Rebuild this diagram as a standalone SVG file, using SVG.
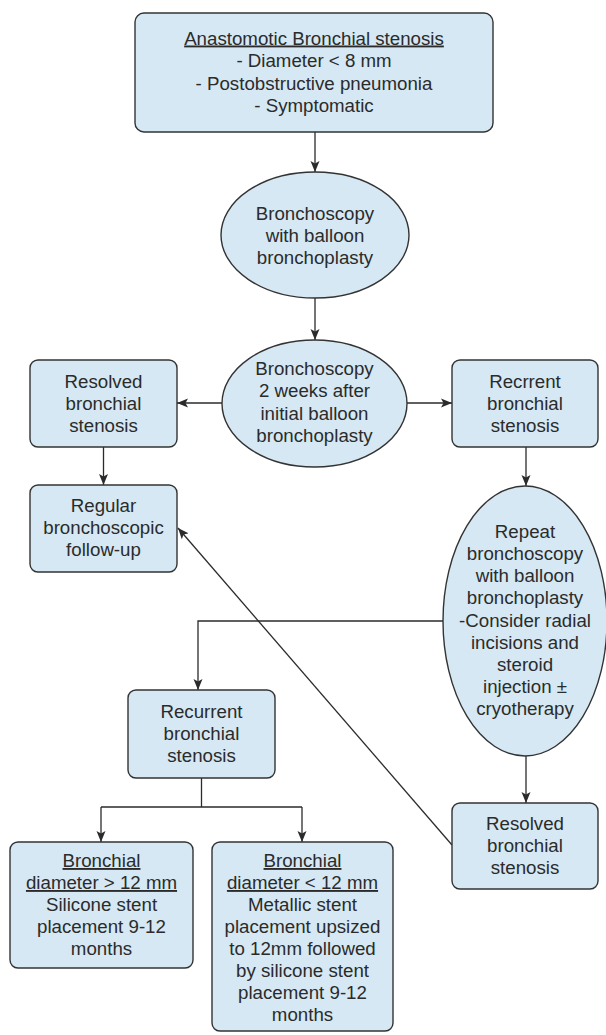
<svg xmlns="http://www.w3.org/2000/svg" width="606" height="1035" viewBox="0 0 606 1035">
<style>
.n{fill:#d5e8f3;stroke:#333;stroke-width:1.4}
.t{font-family:"Liberation Sans",Arial,Helvetica,sans-serif;font-size:18.7px;fill:#2b2b2b;text-anchor:middle}
.u{text-decoration:underline}
.c{fill:none;stroke:#2b2b2b;stroke-width:1.3}
</style>
<defs>
<marker id="ah" markerUnits="userSpaceOnUse" markerWidth="12" markerHeight="10" refX="11" refY="5" orient="auto">
<path d="M0,0.5 L11,5 L0,9.5 L2.5,5 Z" fill="#2b2b2b"/>
</marker>
</defs>
<rect width="606" height="1035" fill="#fff"/>
<g id="connectors">
<path class="c" d="M315,132 V172" marker-end="url(#ah)"/>
<path class="c" d="M315,298 V340" marker-end="url(#ah)"/>
<path class="c" d="M222,403 H177" marker-end="url(#ah)"/>
<path class="c" d="M407,403 H452" marker-end="url(#ah)"/>
<path class="c" d="M103.5,447 V485" marker-end="url(#ah)"/>
<path class="c" d="M526,447 V486" marker-end="url(#ah)"/>
<path class="c" d="M443,621 H198 V690" marker-end="url(#ah)"/>
<path class="c" d="M201.5,778 V807 M101,807 H302"/>
<path class="c" d="M101,807 V842" marker-end="url(#ah)"/>
<path class="c" d="M302,807 V842" marker-end="url(#ah)"/>
<path class="c" d="M526,756 V803" marker-end="url(#ah)"/>
<path class="c" d="M452,845 L178,528" marker-end="url(#ah)"/>
</g>
<g id="n1">
<rect class="n" x="135" y="13" width="358" height="119" rx="9"/>
<text class="t"><tspan class="u" x="314" y="44.5">Anastomotic Bronchial stenosis</tspan><tspan x="314" y="67">- Diameter &lt; 8 mm</tspan><tspan x="314" y="89.5">- Postobstructive pneumonia</tspan><tspan x="314" y="112">- Symptomatic</tspan></text>
</g>
<g id="n2">
<ellipse class="n" cx="315" cy="235" rx="94" ry="63"/>
<text class="t"><tspan x="315" y="220">Bronchoscopy</tspan><tspan x="315" y="242">with balloon</tspan><tspan x="315" y="264">bronchoplasty</tspan></text>
</g>
<g id="n3">
<ellipse class="n" cx="314.5" cy="403.5" rx="92.5" ry="63.5"/>
<text class="t"><tspan x="314.5" y="375">Bronchoscopy</tspan><tspan x="314.5" y="397">2 weeks after</tspan><tspan x="314.5" y="420">initial balloon</tspan><tspan x="314.5" y="442">bronchoplasty</tspan></text>
</g>
<g id="n4">
<rect class="n" x="30" y="360" width="147" height="87" rx="8"/>
<text class="t"><tspan x="103.5" y="388">Resolved</tspan><tspan x="103.5" y="410">bronchial</tspan><tspan x="103.5" y="432">stenosis</tspan></text>
</g>
<g id="n5">
<rect class="n" x="452" y="360" width="146" height="87" rx="8"/>
<text class="t"><tspan x="525" y="388">Recrrent</tspan><tspan x="525" y="410">bronchial</tspan><tspan x="525" y="432">stenosis</tspan></text>
</g>
<g id="n6">
<rect class="n" x="30" y="485" width="147" height="87" rx="8"/>
<text class="t"><tspan x="103.5" y="512">Regular</tspan><tspan x="103.5" y="534">bronchoscopic</tspan><tspan x="103.5" y="556">follow-up</tspan></text>
</g>
<g id="n7">
<ellipse class="n" cx="525" cy="621" rx="82" ry="135"/>
<text class="t"><tspan x="525" y="538">Repeat</tspan><tspan x="525" y="560">bronchoscopy</tspan><tspan x="525" y="582">with balloon</tspan><tspan x="525" y="604">bronchoplasty</tspan><tspan x="525" y="627">-Consider radial</tspan><tspan x="525" y="649">incisions and</tspan><tspan x="525" y="671">steroid</tspan><tspan x="525" y="693">injection ±</tspan><tspan x="525" y="715">cryotherapy</tspan></text>
</g>
<g id="n8">
<rect class="n" x="128" y="690" width="147" height="88" rx="8"/>
<text class="t"><tspan x="201.5" y="718">Recurrent</tspan><tspan x="201.5" y="740">bronchial</tspan><tspan x="201.5" y="762">stenosis</tspan></text>
</g>
<g id="n9">
<rect class="n" x="452" y="803" width="146" height="86" rx="8"/>
<text class="t"><tspan x="525" y="830">Resolved</tspan><tspan x="525" y="852">bronchial</tspan><tspan x="525" y="874">stenosis</tspan></text>
</g>
<g id="n10">
<rect class="n" x="10" y="842" width="183" height="126" rx="8"/>
<text class="t"><tspan class="u" x="101.5" y="867">Bronchial</tspan><tspan class="u" x="101.5" y="889">diameter &gt; 12 mm</tspan><tspan x="101.5" y="911">Silicone stent</tspan><tspan x="101.5" y="933">placement 9-12</tspan><tspan x="101.5" y="955">months</tspan></text>
</g>
<g id="n11">
<rect class="n" x="212" y="842" width="181" height="189" rx="8"/>
<text class="t"><tspan class="u" x="302.5" y="867">Bronchial</tspan><tspan class="u" x="302.5" y="889">diameter &lt; 12 mm</tspan><tspan x="302.5" y="911">Metallic stent</tspan><tspan x="302.5" y="933">placement upsized</tspan><tspan x="302.5" y="955">to 12mm followed</tspan><tspan x="302.5" y="977">by silicone stent</tspan><tspan x="302.5" y="999">placement 9-12</tspan><tspan x="302.5" y="1021">months</tspan></text>
</g>
</svg>
